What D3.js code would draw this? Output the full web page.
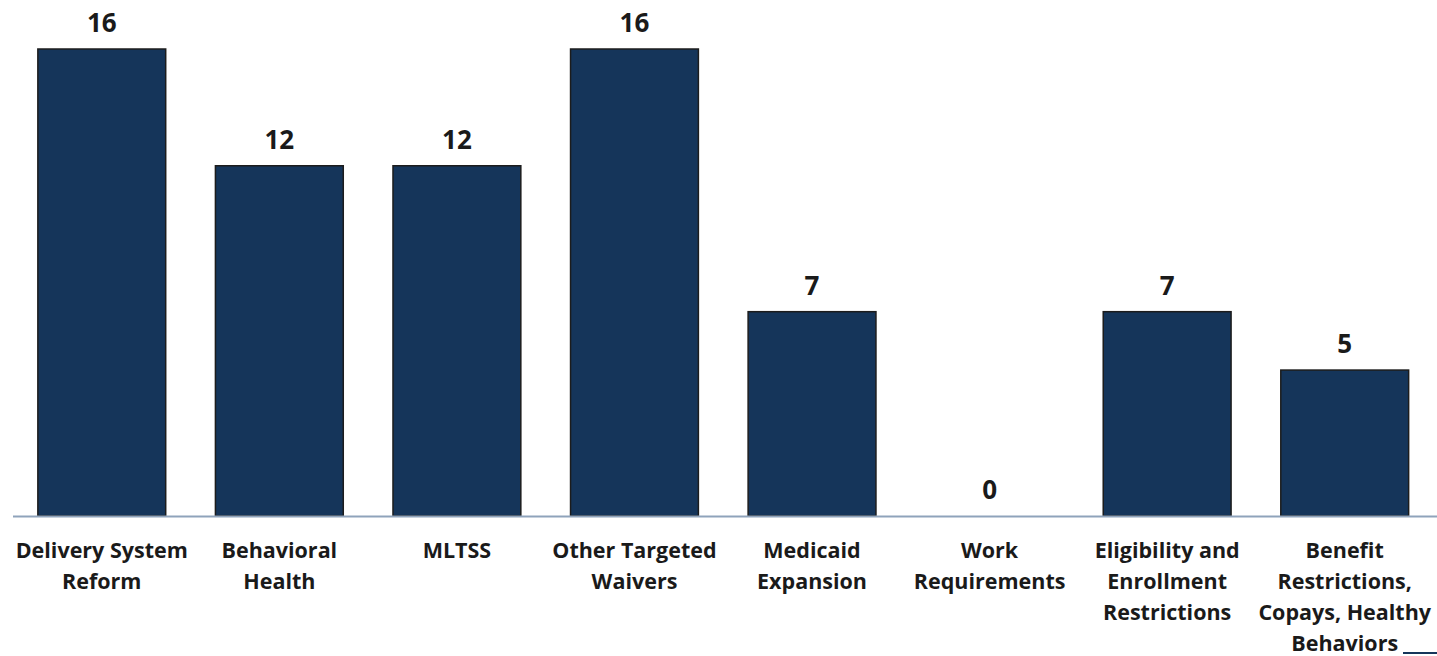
<!DOCTYPE html>
<html><head><meta charset="utf-8">
<script src="https://cdn.jsdelivr.net/npm/d3@7"></script>
<style>html,body{margin:0;padding:0;background:#fff;}svg{display:block;}</style>
</head><body>
<svg id="chart" width="1437" height="656"></svg>
<script>
const categories = [
  ["Delivery System", "Reform"],
  ["Behavioral", "Health"],
  ["MLTSS"],
  ["Other Targeted", "Waivers"],
  ["Medicaid", "Expansion"],
  ["Work", "Requirements"],
  ["Eligibility and", "Enrollment", "Restrictions"],
  ["Benefit", "Restrictions,", "Copays, Healthy", "Behaviors"]
];
const values = [16, 12, 12, 16, 7, 0, 7, 5];

const svg = d3.select("#chart");
const font = "'Open Sans', sans-serif";
const x = d3.scaleBand().domain(d3.range(categories.length)).range([13, 1433.5]).paddingInner(0.28).paddingOuter(0.14);
const y = d3.scaleLinear().domain([0, 16]).range([516, 49]);

svg.selectAll("rect.bar").data(values).join("rect")
  .attr("class", "bar")
  .attr("x", (d, i) => x(i))
  .attr("width", x.bandwidth())
  .attr("y", d => y(d))
  .attr("height", d => y(0) - y(d))
  .attr("fill", "#15355a")
  .attr("stroke", "#1c1c1c")
  .attr("stroke-width", 1.5);

svg.append("line").attr("x1", 13).attr("x2", 1437).attr("y1", y(0) + 0.5).attr("y2", y(0) + 0.5)
  .attr("stroke", "#8fa3bb").attr("stroke-width", 2);

svg.selectAll("text.val").data(values).join("text")
  .attr("class", "val")
  .attr("x", (d, i) => x(i) + x.bandwidth() / 2)
  .attr("y", d => y(d) - 17)
  .attr("text-anchor", "middle")
  .attr("font-family", font).attr("font-weight", "bold").attr("font-size", 26)
  .attr("fill", "#1a1a1a")
  .text(d => d);

const g = svg.selectAll("text.cat").data(categories).join("text")
  .attr("class", "cat")
  .attr("text-anchor", "middle")
  .attr("font-family", font).attr("font-weight", "bold").attr("font-size", 21.5)
  .attr("fill", "#1a1a1a");
g.each(function(lines, i) {
  const t = d3.select(this);
  lines.forEach((ln, j) => {
    t.append("tspan").attr("x", x(i) + x.bandwidth() / 2).attr("y", 558 + j * 31).text(ln);
  });
});

svg.append("line").attr("x1", 1403).attr("x2", 1437).attr("y1", 653).attr("y2", 653)
  .attr("stroke", "#15355a").attr("stroke-width", 2);
</script>
</body></html>
